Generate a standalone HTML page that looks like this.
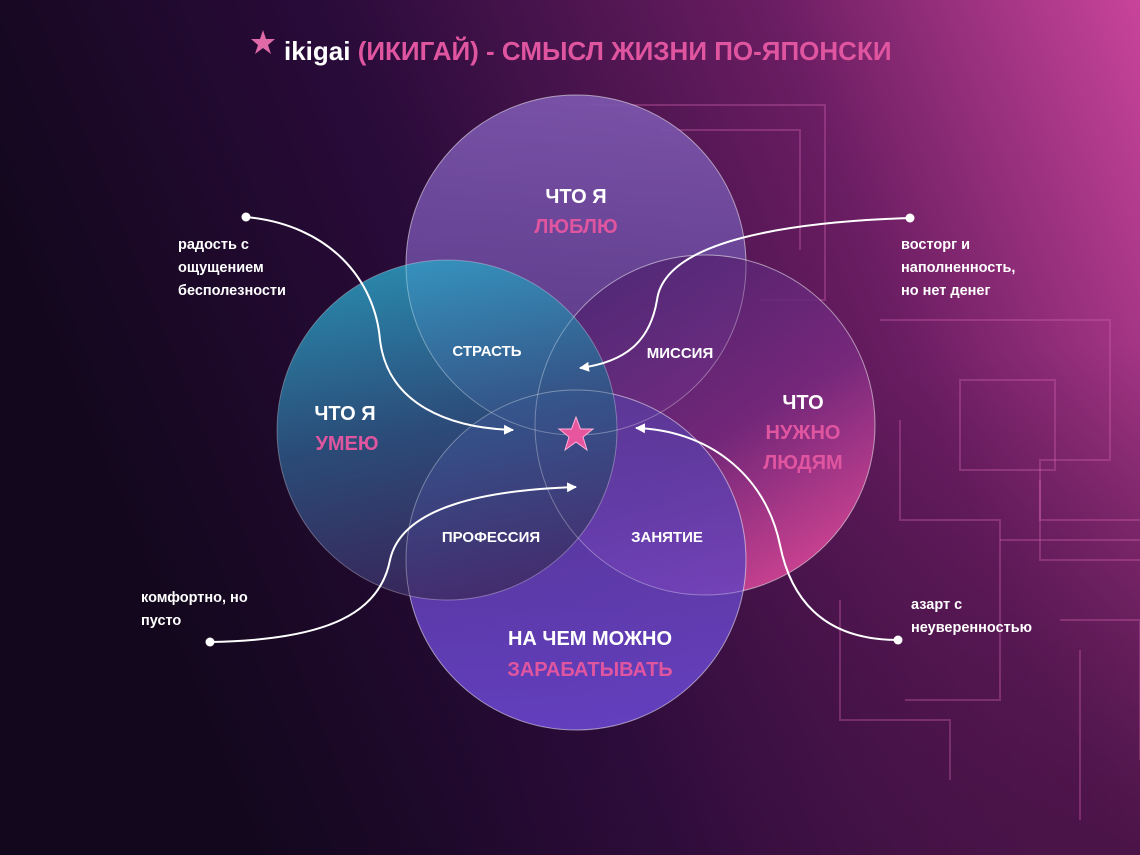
<!DOCTYPE html>
<html><head><meta charset="utf-8"><style>
html,body{margin:0;padding:0;width:1140px;height:855px;overflow:hidden;background:#1a0a28}
svg{display:block}
text{font-family:"Liberation Sans",sans-serif;font-weight:bold}
</style></head><body>
<svg width="1140" height="855" viewBox="0 0 1140 855" xmlns="http://www.w3.org/2000/svg">
<defs>
<linearGradient id="bg" x1="0" y1="0.3" x2="1" y2="0">
<stop offset="0" stop-color="#12071c"/>
<stop offset="0.35" stop-color="#2a0b3a"/>
<stop offset="0.7" stop-color="#6a1d62"/>
<stop offset="1" stop-color="#c8449a"/>
</linearGradient>
<radialGradient id="bg2" cx="1" cy="1" r="0.6">
<stop offset="0" stop-color="#3a0f3a" stop-opacity="0.7"/>
<stop offset="1" stop-color="#3a0f3a" stop-opacity="0"/>
</radialGradient>
<linearGradient id="cTop" x1="0" y1="0" x2="0" y2="1">
<stop offset="0" stop-color="#7e58b0"/><stop offset="1" stop-color="#5a3a8a"/>
</linearGradient>
<linearGradient id="cLeft" x1="0.3" y1="0" x2="0.5" y2="1">
<stop offset="0" stop-color="#2aa6c8"/><stop offset="0.5" stop-color="#2d5a88"/><stop offset="1" stop-color="#3e2a62"/>
</linearGradient>
<linearGradient id="cRight" x1="0.2" y1="0" x2="0.8" y2="1">
<stop offset="0" stop-color="#4a2470"/><stop offset="0.55" stop-color="#7a2a80"/><stop offset="1" stop-color="#ee4ea0"/>
</linearGradient>
<linearGradient id="cBot" x1="0" y1="0" x2="0" y2="1">
<stop offset="0" stop-color="#5a3a9a"/><stop offset="1" stop-color="#6d48d6"/>
</linearGradient>
<marker id="ar" viewBox="0 0 10 10" refX="9" refY="5" markerWidth="5" markerHeight="5" orient="auto">
<path d="M0,0 L10,5 L0,10 z" fill="#fff"/>
</marker>
</defs>
<rect width="1140" height="855" fill="url(#bg)"/>
<rect width="1140" height="855" fill="url(#bg2)"/>
<g fill="none" stroke="#d060b0" stroke-opacity="0.35" stroke-width="2">
<path d="M590,105 H825 V300 H760"/>
<path d="M660,130 H800 V250"/>
<path d="M880,320 H1110 V460 H1040 V560 H1140"/>
<path d="M960,380 H1055 V470 H960 z"/>
<path d="M900,420 V520 H1000 V700 H905"/>
<path d="M1000,540 H1140"/>
<path d="M1040,480 V520 H1140"/>
<path d="M840,600 V720 H950 V780"/>
<path d="M1060,620 H1140 V760"/>
<path d="M1080,650 V820"/>
</g>
<g stroke="#ffffff" stroke-opacity="0.3" stroke-width="1">
<circle cx="576" cy="265" r="170" fill="url(#cTop)" fill-opacity="0.9"/>
<circle cx="705" cy="425" r="170" fill="url(#cRight)" fill-opacity="0.85"/>
<circle cx="576" cy="560" r="170" fill="url(#cBot)" fill-opacity="0.85"/>
<circle cx="447" cy="430" r="170" fill="url(#cLeft)" fill-opacity="0.82"/>
<circle cx="576" cy="265" r="170" fill="none"/>
<circle cx="705" cy="425" r="170" fill="none"/>
<circle cx="576" cy="560" r="170" fill="none"/>
</g>
<g fill="none" stroke="#fff" stroke-width="2">
<path d="M246,217 C330,225 375,280 380,340 C388,405 450,428 513,430" marker-end="url(#ar)"/>
<path d="M910,218 C790,222 665,240 657,300 C650,342 625,362 580,368" marker-end="url(#ar)"/>
<path d="M210,642 C330,640 380,612 390,560 C402,505 490,490 576,487" marker-end="url(#ar)"/>
<path d="M898,640 C820,640 790,595 780,545 C765,472 705,430 636,428" marker-end="url(#ar)"/>
</g>
<g fill="#fff">
<circle cx="246" cy="217" r="4.5"/><circle cx="910" cy="218" r="4.5"/>
<circle cx="210" cy="642" r="4.5"/><circle cx="898" cy="640" r="4.5"/>
</g>
<polygon points="576,417 580.5,429 593,429 583,437 587,450 576,442 565,450 569,437 559,429 571.5,429" fill="#e8559f" stroke="#ffb0d8" stroke-width="1"/>
<polygon points="263,30 266,39 275,39 268,45 271,54 263,48 255,54 258,45 251,39 260,39" fill="#e06aa8"/>
<text x="284" y="60" font-size="26" fill="#fff">ikigai <tspan fill="#e0559f">(ИКИГАЙ) - СМЫСЛ ЖИЗНИ ПО-ЯПОНСКИ</tspan></text>
<g font-size="20" text-anchor="middle">
<text x="576" y="203" fill="#fff">ЧТО Я</text>
<text x="576" y="233" fill="#e0559f">ЛЮБЛЮ</text>
<text x="345" y="420" fill="#fff">ЧТО Я</text>
<text x="347" y="450" fill="#e0559f">УМЕЮ</text>
<text x="803" y="409" fill="#fff">ЧТО</text>
<text x="803" y="439" fill="#e0559f">НУЖНО</text>
<text x="803" y="469" fill="#e0559f">ЛЮДЯМ</text>
<text x="590" y="645" fill="#fff">НА ЧЕМ МОЖНО</text>
<text x="590" y="676" fill="#e0559f">ЗАРАБАТЫВАТЬ</text>
</g>
<g font-size="15" fill="#fff" text-anchor="middle">
<text x="487" y="356">СТРАСТЬ</text>
<text x="680" y="358">МИССИЯ</text>
<text x="491" y="542">ПРОФЕССИЯ</text>
<text x="667" y="542">ЗАНЯТИЕ</text>
</g>
<g font-size="14.5" fill="#fff">
<text x="178" y="249">радость с</text>
<text x="178" y="272">ощущением</text>
<text x="178" y="295">бесполезности</text>
<text x="901" y="249">восторг и</text>
<text x="901" y="272">наполненность,</text>
<text x="901" y="295">но нет денег</text>
<text x="141" y="602">комфортно, но</text>
<text x="141" y="625">пусто</text>
<text x="911" y="609">азарт с</text>
<text x="911" y="632">неуверенностью</text>
</g>
</svg>
</body></html>
